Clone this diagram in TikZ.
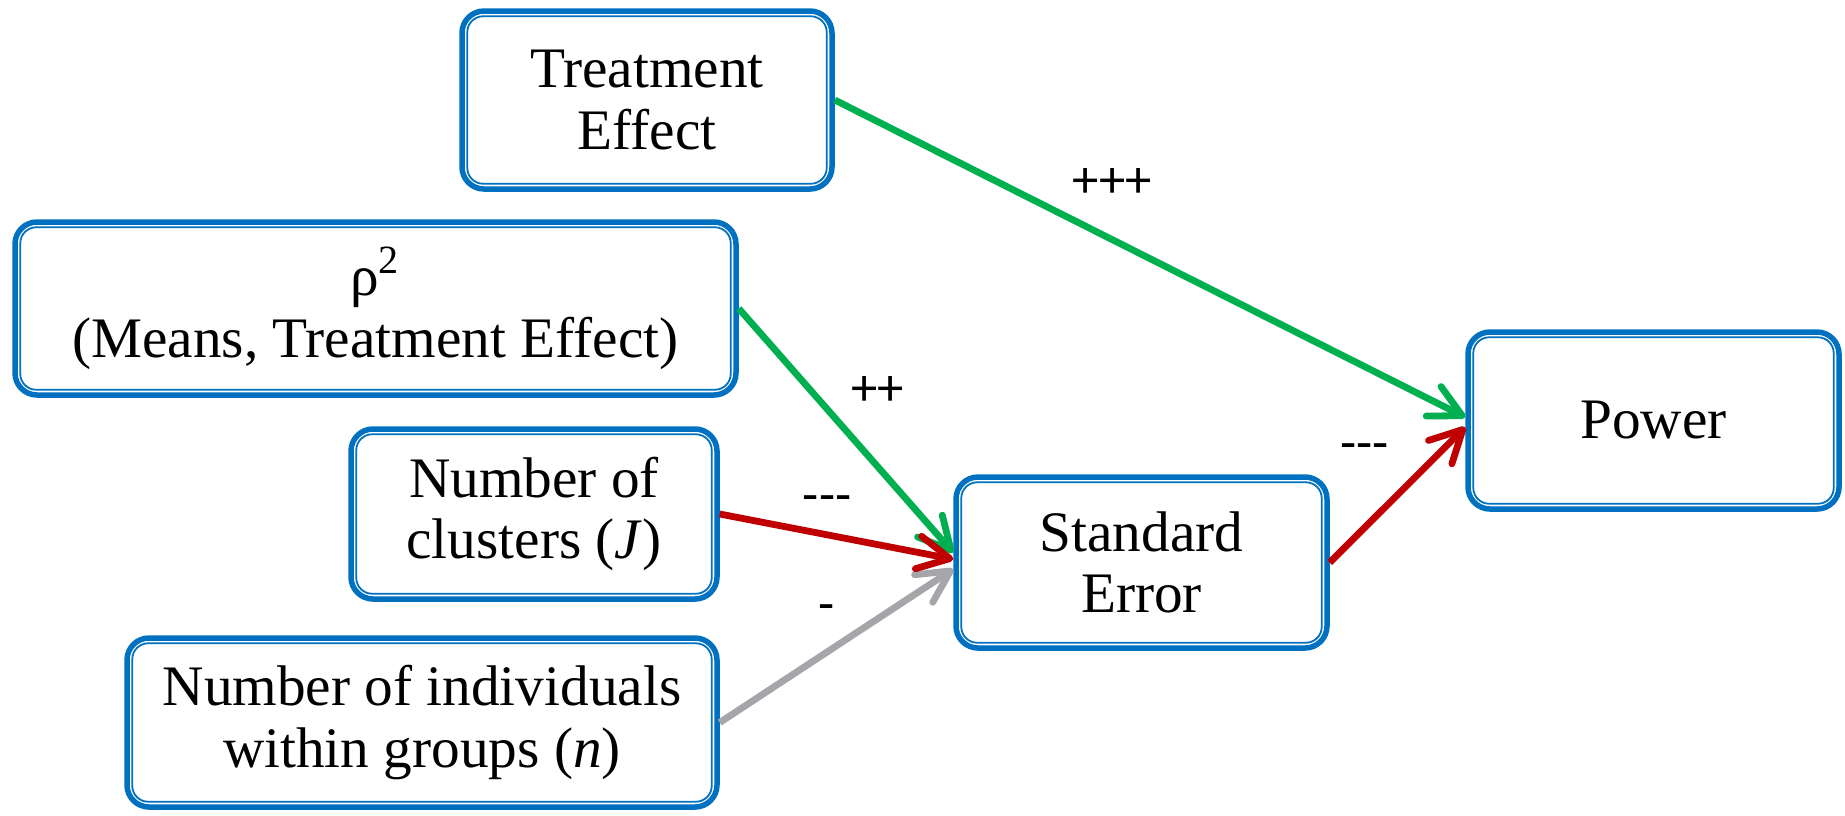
\documentclass[tikz,border=0pt]{standalone}
\usepackage{fontspec}
\setmainfont{Liberation Serif}
\newfontfamily\lblfont{Carlito}
\usetikzlibrary{arrows.meta}
\definecolor{boxblue}{RGB}{0,112,192}
\definecolor{posgreen}{RGB}{0,176,80}
\definecolor{negred}{RGB}{192,0,0}
\definecolor{weakgray}{RGB}{165,165,170}

\begin{document}
\begin{tikzpicture}[x=0.1mm, y=-0.1mm,
		box/.style={draw=boxblue, line width=0.55mm, rounded corners=2.2mm, align=center, fill=white,
			font=\fontsize{16.3}{17.5}\selectfont, inner sep=0pt},
		link/.style={line width=0.68mm, -{Straight Barb[length=3.2mm, width=3.3mm, round]}},
		lbl/.style={text=black, font=\lblfont\fontsize{15}{18}\selectfont, inner sep=0pt}]
		\useasboundingbox (0,0) rectangle (1845,815);
		% boxes
		\node[box, minimum width=37.0mm, minimum height=17.8mm] (te) at (647,100) {Treatment\\Effect};
		\node[box, minimum width=72.1mm, minimum height=17.3mm] (rho) at (375.5,308.5) {ρ\textsuperscript{2}\\(Means, Treatment Effect)};
		\node[box, minimum width=36.6mm, minimum height=17.0mm] (nc) at (534,514) {Number of\\clusters (\textit{J})};
		\node[box, minimum width=59.0mm, minimum height=16.9mm] (ni) at (422,722.5) {Number of individuals\\within groups (\textit{n})};
		\node[box, minimum width=37.1mm, minimum height=17.1mm] (se) at (1141.5,562.5) {Standard\\Error};
		\node[box, minimum width=37.1mm, minimum height=17.7mm] (pw) at (1653.5,420.5) {Power};
		% inner lines
		\foreach \n in {te,rho,nc,ni,se,pw}
			\draw[boxblue, line width=0.18mm, rounded corners=1.6mm] ([shift={(8,-8)}]\n.south west) rectangle ([shift={(-8,8)}]\n.north east);
		% effects
		\draw[link, posgreen] (te.east) -- (pw.179) node[lbl, pos=0.44, yshift=5.7mm] (ltp) {+++};
		\draw[link, posgreen] (rho.east) -- (se.177) node[lbl, pos=0.47, xshift=3.8mm, yshift=3.2mm] (lrs) {++};
		\draw[link, weakgray] (ni.east) -- (se.182) node[lbl, pos=0.456, yshift=3.9mm] (lns) {-};
		\draw[link, negred] (nc.east) -- (se.179) node[lbl, pos=0.46, yshift=3.1mm] (lcs) {-{}-{}-};
		\draw[link, negred] (se.east) -- (pw.182) node[lbl, pos=0.53, xshift=-3.7mm, yshift=3.9mm] (lsp) {-{}-{}-};
\end{tikzpicture}
\end{document}
